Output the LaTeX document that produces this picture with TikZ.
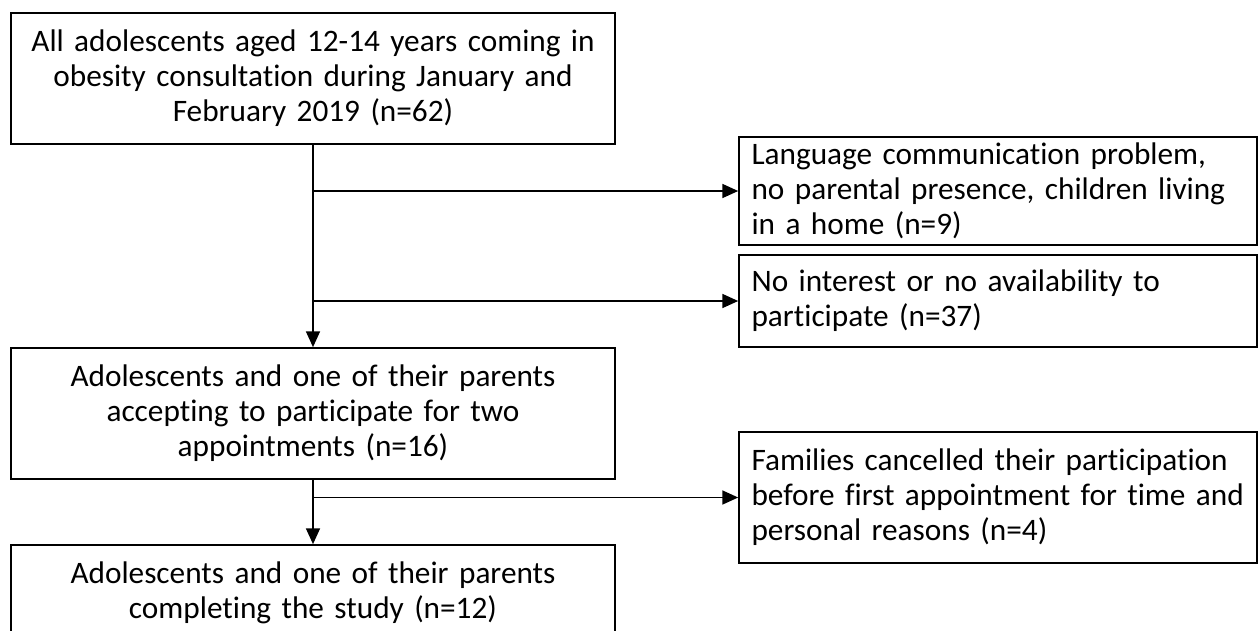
\documentclass[tikz,border=0pt]{standalone}
\usepackage{fontspec}
\setmainfont{Carlito}[Ligatures=NoCommon]
\usepackage{tikz}
\usetikzlibrary{arrows.meta, positioning}

\begin{document}
\begin{tikzpicture}[x=0.02cm, y=-0.02cm,
		box/.style={draw, line width=1pt, inner sep=0pt, font=\fontsize{17.8}{20}\selectfont},
		mainbox/.style={box, text width=11.8cm, minimum width=12.08cm, minimum height=2.62cm, align=center},
		sidebox/.style={box, text width=9.86cm, inner xsep=0.25cm, minimum width=10.36cm, align=left},
		flow/.style={line width=0.8pt, -{Triangle[length=9pt, width=8pt]}}]
		% 画布
		\useasboundingbox (0,0) rectangle (1259,630);
		\clip (0,0) rectangle (1259,630);
		
		% 主流程
		\node[mainbox] (all) at (313,78.5) {All adolescents aged 12-14 years coming in\\ obesity consultation during January and\\ February 2019 (n=62)};
		\node[mainbox] (accept) at (313,413.5) {Adolescents and one of their parents\\ accepting to participate for two\\ appointments (n=16)};
		\node[mainbox, minimum height=1.9cm] (complete) at (313,592.5) {Adolescents and one of their parents\\ completing the study (n=12)};
		
		% 排除
		\node[sidebox, minimum height=2.16cm] (lang) at (998,191) {Language communication problem,\\ no parental presence, children living\\ in a home (n=9)};
		\node[sidebox, minimum height=1.84cm] (nointerest) at (998,301) {No interest or no availability to\\ participate (n=37)};
		\node[sidebox, minimum height=2.62cm] (cancel) at (998,497.5) {Families cancelled their participation\\ before first appointment for time and\\ personal reasons (n=4)};
		
		% 箭头
		\draw[flow] (all) -- (accept);
		\draw[flow] (accept) -- (complete);
		\draw[flow] (all.south |- lang.west) -- (lang.west);
		\draw[flow] (all.south |- nointerest.west) -- (nointerest.west);
		\draw[flow] (accept.south |- cancel.west) -- (cancel.west);
	\end{tikzpicture}
\end{document}
